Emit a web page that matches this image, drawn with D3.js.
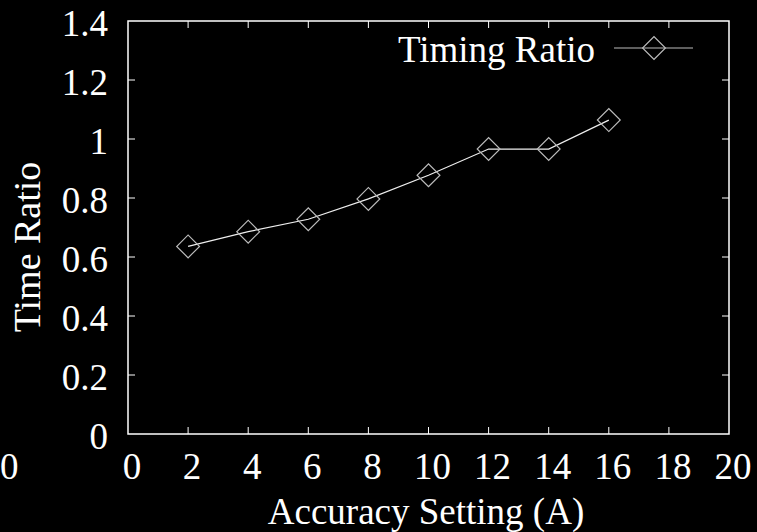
<!DOCTYPE html>
<meta charset="utf-8">
<style>
    body { margin: 0; background: #000; }
    text { font-family: "Liberation Serif", "Times New Roman", serif; fill: #fff; }
</style>
<body>
<script src="https://d3js.org/d3.v7.min.js"></script>
<script>
var width = 757, height = 532;

// data
var accuracy = [2, 4, 6, 8, 10, 12, 14, 16];
var timeRatio = [0.636, 0.686, 0.728, 0.797, 0.877, 0.966, 0.966, 1.064];
var xTicks = [0, 2, 4, 6, 8, 10, 12, 14, 16, 18, 20];
var yTicks = [0, 0.2, 0.4, 0.6, 0.8, 1, 1.2, 1.4];
var seriesName = "Timing Ratio";

var margin = {left: 128, right: 28, top: 21, bottom: 98};

var svg = d3.select("body").append("svg")
    .attr("width", width)
    .attr("height", height);

var x = d3.scaleLinear().domain([0, 20]).range([margin.left, width - margin.right]);
var y = d3.scaleLinear().domain([0, 1.4]).range([height - margin.bottom, margin.top]);

var fontSize = 37, tickLen = 7;

// frame
svg.append("rect")
    .attr("x", x(0)).attr("y", y(1.4))
    .attr("width", x(20) - x(0)).attr("height", y(0) - y(1.4))
    .attr("fill", "none").attr("stroke", "#fff").attr("stroke-width", 1.5);

// x ticks (bottom + top, inward)
xTicks.slice(1, -1).forEach(function (t) {
    svg.append("line").attr("x1", x(t)).attr("x2", x(t))
        .attr("y1", y(0)).attr("y2", y(0) - tickLen)
        .attr("stroke", "#fff");
    svg.append("line").attr("x1", x(t)).attr("x2", x(t))
        .attr("y1", y(1.4)).attr("y2", y(1.4) + tickLen)
        .attr("stroke", "#fff");
});
yTicks.slice(1, -1).forEach(function (t) {
    svg.append("line").attr("x1", x(0)).attr("x2", x(0) + tickLen)
        .attr("y1", y(t)).attr("y2", y(t))
        .attr("stroke", "#fff");
    svg.append("line").attr("x1", x(20)).attr("x2", x(20) - tickLen)
        .attr("y1", y(t)).attr("y2", y(t))
        .attr("stroke", "#fff");
});

// tick labels
svg.selectAll(".xl").data(xTicks).enter().append("text")
    .attr("class", "xl")
    .attr("x", function (d) { return x(d) + 4; })
    .attr("y", 479)
    .attr("text-anchor", "middle")
    .style("font-size", fontSize + "px")
    .text(function (d) { return d; });

// stray label at the left edge
svg.append("text").attr("x", 0).attr("y", 479)
    .attr("text-anchor", "start")
    .style("font-size", fontSize + "px")
    .text("0");

svg.selectAll(".yl").data(yTicks).enter().append("text")
    .attr("class", "yl")
    .attr("x", 108)
    .attr("y", function (d) { return y(d) + 15; })
    .attr("text-anchor", "end")
    .style("font-size", fontSize + "px")
    .text(function (d) { return d; });

// axis titles
svg.append("text")
    .attr("x", 426).attr("y", 524)
    .attr("text-anchor", "middle")
    .style("font-size", fontSize + "px")
    .text("Accuracy Setting (A)");

svg.append("text")
    .attr("transform", "translate(40," + 247 + ") rotate(-90)")
    .attr("text-anchor", "middle")
    .style("font-size", "38px")
    .text("Time Ratio");

// series
var pts = accuracy.map(function (a, i) { return [a, timeRatio[i]]; });
var line = d3.line().x(function (d) { return x(d[0]); }).y(function (d) { return y(d[1]); });

svg.append("path").datum(pts)
    .attr("d", line)
    .attr("fill", "none").attr("stroke", "#eee").attr("stroke-width", 1.2);

var diamond = d3.symbol().type(d3.symbolSquare).size(260);
svg.selectAll(".pt").data(pts).enter().append("path")
    .attr("class", "pt")
    .attr("d", diamond)
    .attr("transform", function (d) { return "translate(" + x(d[0]) + "," + y(d[1]) + ") rotate(45)"; })
    .attr("fill", "none").attr("stroke", "#bbb").attr("stroke-width", 1.2);

// legend
svg.append("text")
    .attr("x", 595).attr("y", 62)
    .attr("text-anchor", "end")
    .style("font-size", fontSize + "px")
    .text(seriesName);
svg.append("line").attr("x1", 614).attr("x2", 693).attr("y1", 48).attr("y2", 48)
    .attr("stroke", "#bbb").attr("stroke-width", 1.2);
svg.append("path").attr("d", diamond)
    .attr("transform", "translate(654,48) rotate(45)")
    .attr("fill", "none").attr("stroke", "#bbb").attr("stroke-width", 1.2);
</script>
</body>
